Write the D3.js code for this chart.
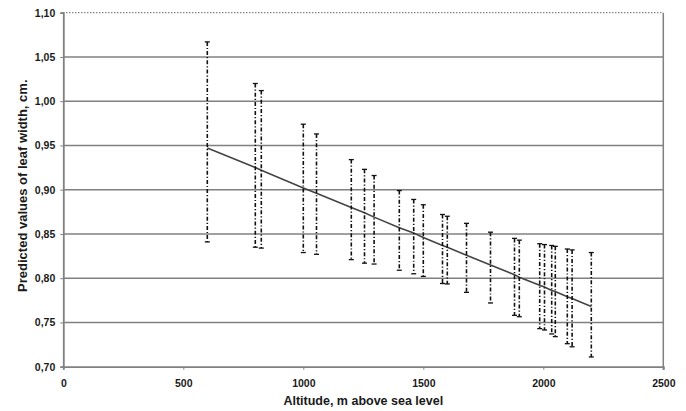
<!DOCTYPE html>
<html lang="en">
  <head>
    <meta charset="UTF-8" />
    <title>Predicted leaf width by altitude</title>
    <script src="https://cdn.jsdelivr.net/npm/d3@7"></script>
    <style>
      body { margin: 0; background: #fff; }
      svg text { font-family: "Liberation Sans", Arial, sans-serif; font-weight: bold; fill: #1a1a1a; }
    </style>
  </head>
  <body>
    <div id="container"></div>
    <script>
      // altitude of each sampling site (m)
      const altitudes = [600, 800, 825, 1000, 1055, 1200, 1255, 1295, 1400, 1460, 1500, 1580, 1600,
                         1680, 1780, 1880, 1900, 1985, 2005, 2035, 2050, 2100, 2120, 2200]
      // predicted leaf width (cm), on the fitted line
      const predicted = [0.947, 0.925, 0.922, 0.902, 0.896, 0.880, 0.874, 0.869, 0.857, 0.851, 0.846, 0.837, 0.835,
                         0.826, 0.815, 0.804, 0.801, 0.792, 0.790, 0.786, 0.785, 0.779, 0.777, 0.768]
      // upper and lower ends of the interval bars
      const upper = [1.067, 1.020, 1.012, 0.974, 0.963, 0.934, 0.923, 0.916, 0.899, 0.889, 0.883, 0.872, 0.870,
                     0.862, 0.852, 0.845, 0.843, 0.839, 0.838, 0.837, 0.836, 0.833, 0.832, 0.829]
      const lower = [0.841, 0.835, 0.834, 0.829, 0.827, 0.821, 0.817, 0.816, 0.809, 0.805, 0.802, 0.794, 0.7935,
                     0.784, 0.772, 0.758, 0.7565, 0.743, 0.7415, 0.737, 0.734, 0.726, 0.7225, 0.711]

      const xTicks = [0, 500, 1000, 1500, 2000, 2500]
      const yTicks = [0.70, 0.75, 0.80, 0.85, 0.90, 0.95, 1.00, 1.05, 1.10]

      const dataset = altitudes.map((a, i) => ({ alt: a, pred: predicted[i], hi: upper[i], lo: lower[i] }))

      const width = 686
      const height = 411
      const marginLeft = 63.3
      const marginRight = 22.7
      const marginTop = 12.7
      const marginBottom = 44.3

      const xScale = d3.scaleLinear().domain([0, 2500]).range([marginLeft, width - marginRight])
      const yScale = d3.scaleLinear().domain([0.70, 1.10]).range([height - marginBottom, marginTop])

      const svg = d3.create('svg')
        .attr('width', width)
        .attr('height', height)
        .attr('viewBox', [0, 0, width, height])

      const fmt = (v) => d3.format('.2f')(v).replace('.', ',')

      // horizontal gridlines, the top one dotted
      svg.append('g')
        .selectAll('line')
        .data(yTicks.slice(1))
        .join('line')
        .attr('x1', xScale(0))
        .attr('x2', xScale(2500))
        .attr('y1', (d) => yScale(d))
        .attr('y2', (d) => yScale(d))
        .attr('stroke', (d) => d === 1.10 ? '#222' : '#808080')
        .attr('stroke-width', (d) => d === 1.10 ? 1 : 1.6)
        .attr('stroke-dasharray', (d) => d === 1.10 ? '1,2' : null)

      // right border of the plot
      svg.append('line')
        .attr('x1', xScale(2500)).attr('x2', xScale(2500))
        .attr('y1', yScale(1.10)).attr('y2', yScale(0.70) + 3)
        .attr('stroke', '#808080').attr('stroke-width', 1.5)

      // y axis
      const yAxis = svg.append('g')
        .attr('transform', `translate(${marginLeft}, 0)`)
        .call(d3.axisLeft(yScale).tickValues(yTicks).tickFormat(fmt).tickSize(3).tickPadding(5))
      yAxis.select('.domain').attr('stroke', '#808080').attr('stroke-width', 1.8)
      yAxis.selectAll('.tick line').attr('stroke', '#808080')
      yAxis.selectAll('.tick text').style('font-size', '10.5px')

      // x axis
      const xAxis = svg.append('g')
        .attr('transform', `translate(0, ${height - marginBottom})`)
        .call(d3.axisBottom(xScale).tickValues(xTicks).tickFormat(d3.format('d')).tickSize(3).tickPadding(10))
      xAxis.select('.domain').attr('stroke', '#808080').attr('stroke-width', 1.8)
      xAxis.selectAll('.tick line').attr('stroke', '#808080')
      xAxis.selectAll('.tick text').style('font-size', '10.5px')

      // fitted line through the predicted values
      svg.append('path')
        .datum(dataset)
        .attr('fill', 'none')
        .attr('stroke', '#444')
        .attr('stroke-width', 1.6)
        .attr('d', d3.line().x((d) => xScale(d.alt)).y((d) => yScale(d.pred)))

      // interval bars
      const bars = svg.append('g')
        .attr('stroke', '#111')
        .selectAll('g')
        .data(dataset)
        .join('g')

      bars.append('line')
        .attr('x1', (d) => xScale(d.alt)).attr('x2', (d) => xScale(d.alt))
        .attr('y1', (d) => yScale(d.hi)).attr('y2', (d) => yScale(d.lo))
        .attr('stroke-width', 1.6)
        .attr('stroke-dasharray', '4,2,1.2,2')

      bars.append('line')
        .attr('x1', (d) => xScale(d.alt) - 2.5).attr('x2', (d) => xScale(d.alt) + 2.5)
        .attr('y1', (d) => yScale(d.hi)).attr('y2', (d) => yScale(d.hi))
        .attr('stroke-width', 1.3)

      bars.append('line')
        .attr('x1', (d) => xScale(d.alt) - 2.5).attr('x2', (d) => xScale(d.alt) + 2.5)
        .attr('y1', (d) => yScale(d.lo)).attr('y2', (d) => yScale(d.lo))
        .attr('stroke-width', 1.3)

      // axis titles
      svg.append('text')
        .attr('x', (xScale(0) + xScale(2500)) / 2)
        .attr('y', 405)
        .attr('text-anchor', 'middle')
        .style('font-size', '12.5px')
        .text('Altitude, m above sea level')

      svg.append('text')
        .attr('transform', `translate(27, ${(yScale(0.70) + yScale(1.10)) / 2 - 4}) rotate(-90)`)
        .attr('text-anchor', 'middle')
        .style('font-size', '13px')
        .text('Predicted values of leaf width, cm.')

      document.getElementById('container').append(svg.node())
    </script>
  </body>
</html>
